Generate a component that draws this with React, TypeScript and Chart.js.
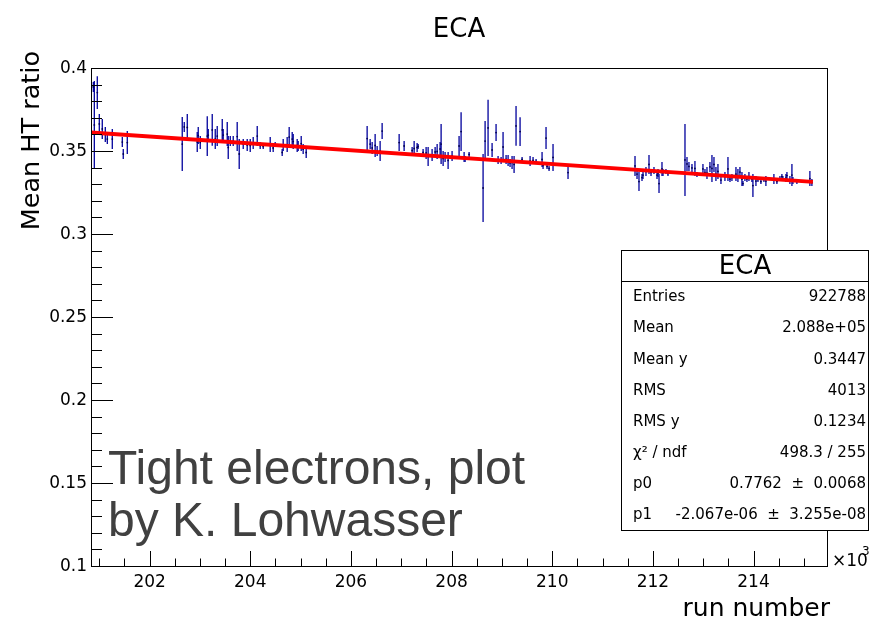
import React, { useEffect, useRef } from "react";
import { Chart, registerables } from "chart.js";

Chart.register(...registerables);

// ---- data ----
const runNumbers = [
  200881, 200901, 200960, 201000, 201059, 201119, 201159, 201258, 201457, 201476,
  201556, 202648, 202688, 202748, 202946, 202966, 203006, 203145, 203165, 203244,
  203304, 203343, 203443, 203462, 203542, 203562, 203602, 203661, 203740, 203780,
  203860, 203939, 203999, 204058, 204138, 204197, 204257, 204396, 204455, 204495,
  204634, 204654, 204733, 204773, 204833, 204853, 204932, 204952, 205012, 205051,
  205111, 206322, 206382, 206422, 206481, 206521, 206580, 206620, 206958, 207057,
  207216, 207256, 207315, 207335, 207434, 207494, 207534, 207613, 207673, 207713,
  207772, 207792, 207832, 207871, 207931, 208010, 208149, 208189, 208249, 208269,
  208348, 208626, 208666, 208725, 208805, 208884, 208924, 208984, 209023, 209083,
  209123, 209162, 209202, 209242, 209281, 209361, 209401, 209560, 209619, 209679,
  209798, 209818, 209877, 209897, 209937, 210016, 210314, 211645, 211685, 211724,
  211784, 211804, 211863, 211923, 211963, 212022, 212082, 212102, 212122, 212181,
  212201, 212260, 212300, 212638, 212678, 212717, 212777, 212836, 212876, 212995,
  213035, 213075, 213134, 213174, 213214, 213253, 213293, 213353, 213432, 213492,
  213532, 213571, 213651, 213690, 213730, 213770, 213790, 213829, 213869, 213909,
  213968, 213988, 214048, 214088, 214147, 214207, 214246, 214405, 214465, 214525,
  214564, 214584, 214644, 214664, 214723, 214763, 214783, 214862, 215120, 215160,
];

const meanRatio = [
  0.3886, 0.3657, 0.3852, 0.3663, 0.3633, 0.3599, 0.3572, 0.3572, 0.3554, 0.3482,
  0.3551, 0.3542, 0.3645, 0.3642, 0.3554, 0.3593, 0.3551, 0.3590, 0.3596, 0.3627,
  0.3572, 0.3590, 0.3627, 0.3596, 0.3602, 0.3521, 0.3560, 0.3560, 0.3587, 0.3482,
  0.3542, 0.3536, 0.3533, 0.3548, 0.3590, 0.3533, 0.3527, 0.3539, 0.3518, 0.3539,
  0.3491, 0.3536, 0.3539, 0.3584, 0.3572, 0.3557, 0.3533, 0.3530, 0.3545, 0.3512,
  0.3491, 0.3575, 0.3542, 0.3518, 0.3533, 0.3500, 0.3500, 0.3620, 0.3551, 0.3530,
  0.3503, 0.3515, 0.3521, 0.3527, 0.3491, 0.3488, 0.3467, 0.3476, 0.3494, 0.3497,
  0.3512, 0.3542, 0.3455, 0.3464, 0.3443, 0.3470, 0.3530, 0.3617, 0.3464, 0.3452,
  0.3479, 0.3277, 0.3560, 0.3639, 0.3506, 0.3611, 0.3446, 0.3443, 0.3524, 0.3449,
  0.3443, 0.3428, 0.3431, 0.3419, 0.3651, 0.3617, 0.3449, 0.3440, 0.3443, 0.3437,
  0.3449, 0.3413, 0.3578, 0.3407, 0.3395, 0.3461, 0.3370, 0.3410, 0.3361, 0.3316,
  0.3340, 0.3355, 0.3377, 0.3419, 0.3370, 0.3383, 0.3355, 0.3367, 0.3304, 0.3392,
  0.3370, 0.3377, 0.3364, 0.3446, 0.3422, 0.3407, 0.3398, 0.3395, 0.3358, 0.3392,
  0.3370, 0.3367, 0.3404, 0.3395, 0.3419, 0.3361, 0.3377, 0.3325, 0.3346, 0.3392,
  0.3331, 0.3340, 0.3361, 0.3352, 0.3373, 0.3331, 0.3304, 0.3340, 0.3331, 0.3346,
  0.3331, 0.3292, 0.3319, 0.3328, 0.3316, 0.3328, 0.3319, 0.3331, 0.3316, 0.3334,
  0.3346, 0.3334, 0.3337, 0.3352, 0.3325, 0.3355, 0.3322, 0.3316, 0.3334, 0.3310,
];

const ratioError = [
  0.0030, 0.0265, 0.0099, 0.0060, 0.0060, 0.0045, 0.0030, 0.0060, 0.0030, 0.0030,
  0.0069, 0.0163, 0.0030, 0.0081, 0.0060, 0.0051, 0.0039, 0.0120, 0.0036, 0.0096,
  0.0060, 0.0060, 0.0066, 0.0036, 0.0072, 0.0069, 0.0030, 0.0030, 0.0087, 0.0090,
  0.0030, 0.0036, 0.0039, 0.0036, 0.0060, 0.0021, 0.0015, 0.0045, 0.0024, 0.0015,
  0.0021, 0.0036, 0.0045, 0.0060, 0.0042, 0.0045, 0.0039, 0.0030, 0.0045, 0.0030,
  0.0033, 0.0075, 0.0030, 0.0036, 0.0069, 0.0030, 0.0060, 0.0048, 0.0051, 0.0030,
  0.0021, 0.0045, 0.0027, 0.0015, 0.0021, 0.0036, 0.0057, 0.0036, 0.0030, 0.0045,
  0.0042, 0.0120, 0.0045, 0.0030, 0.0051, 0.0030, 0.0060, 0.0117, 0.0030, 0.0018,
  0.0015, 0.0205, 0.0120, 0.0169, 0.0042, 0.0051, 0.0024, 0.0021, 0.0090, 0.0027,
  0.0033, 0.0024, 0.0039, 0.0051, 0.0120, 0.0087, 0.0015, 0.0030, 0.0021, 0.0015,
  0.0045, 0.0021, 0.0066, 0.0015, 0.0015, 0.0081, 0.0039, 0.0060, 0.0030, 0.0057,
  0.0021, 0.0024, 0.0027, 0.0057, 0.0021, 0.0021, 0.0024, 0.0024, 0.0057, 0.0042,
  0.0021, 0.0015, 0.0015, 0.0217, 0.0042, 0.0027, 0.0024, 0.0045, 0.0015, 0.0030,
  0.0021, 0.0036, 0.0030, 0.0081, 0.0045, 0.0042, 0.0045, 0.0024, 0.0027, 0.0072,
  0.0018, 0.0021, 0.0042, 0.0039, 0.0030, 0.0042, 0.0015, 0.0021, 0.0018, 0.0027,
  0.0018, 0.0069, 0.0030, 0.0015, 0.0015, 0.0015, 0.0030, 0.0030, 0.0015, 0.0015,
  0.0015, 0.0015, 0.0024, 0.0021, 0.0024, 0.0066, 0.0021, 0.0015, 0.0045, 0.0021,
];

// linear fit drawn over the profile (endpoints of the red line)
const fitRuns = [200835, 215180];
const fitRatio = [0.3611, 0.3314];

// axes
const xRange = [200835, 215460];
const yRange = [0.1, 0.4];
const xMajorTicks = [202000, 204000, 206000, 208000, 210000, 212000, 214000];
const xTickLabels = ["202", "204", "206", "208", "210", "212", "214"];
const xMinorStep = 500;
const yMajorTicks = [0.1, 0.15, 0.2, 0.25, 0.3, 0.35, 0.4];
const yTickLabels = ["0.1", "0.15", "0.2", "0.25", "0.3", "0.35", "0.4"];
const yMinorStep = 0.01;

// statistics box
const statsTitle = "ECA";
const statsLabels = ["Entries", "Mean", "Mean y", "RMS", "RMS y", "χ² / ndf", "p0", "p1"];
const statsValues = [
  "922788",
  "2.088e+05",
  "0.3447",
  "4013",
  "0.1234",
  "498.3 / 255",
  "0.7762  ±  0.0068",
  "-2.067e-06  ±  3.255e-08",
];

const chartTitle = "ECA";
const xAxisTitle = "run number";
const yAxisTitle = "Mean HT ratio";
const noteLines = ["Tight electrons, plot", "by K. Lohwasser"];

const SANS = '"DejaVu Sans", "Liberation Sans", sans-serif';

const rootStylePlugin = {
  id: "rootStyle",
  beforeDatasetsDraw(chart: any) {
    const ctx = chart.ctx;
    const xs = chart.scales.x;
    const ys = chart.scales.y;
    ctx.save();
    ctx.strokeStyle = "#00009c";
    ctx.lineWidth = 1.3;
    for (let i = 0; i < runNumbers.length; i++) {
      const px = xs.getPixelForValue(runNumbers[i]);
      const y1 = ys.getPixelForValue(meanRatio[i] - ratioError[i]);
      const y2 = ys.getPixelForValue(meanRatio[i] + ratioError[i]);
      ctx.beginPath();
      ctx.moveTo(px, y1);
      ctx.lineTo(px, y2);
      ctx.stroke();
    }
    ctx.restore();
  },
  afterDraw(chart: any) {
    const ctx = chart.ctx;
    const xs = chart.scales.x;
    const ys = chart.scales.y;
    const a = chart.chartArea;
    ctx.save();

    // frame
    ctx.strokeStyle = "#000";
    ctx.lineWidth = 1;
    ctx.strokeRect(Math.round(a.left) + 0.5, Math.round(a.top) + 0.5, Math.round(a.right - a.left), Math.round(a.bottom - a.top));

    // y ticks (inside)
    const nY = Math.round((yRange[1] - yRange[0]) / yMinorStep);
    for (let k = 0; k <= nY; k++) {
      const v = yRange[0] + k * yMinorStep;
      const isMajor = yMajorTicks.some((m) => Math.abs(m - v) < 1e-6);
      const py = Math.round(ys.getPixelForValue(v)) + 0.5;
      ctx.beginPath();
      ctx.moveTo(a.left, py);
      ctx.lineTo(a.left + (isMajor ? 22 : 11), py);
      ctx.stroke();
    }
    // x ticks (inside)
    const startX = Math.ceil(xRange[0] / xMinorStep) * xMinorStep;
    for (let v = startX; v <= xRange[1]; v += xMinorStep) {
      const isMajor = xMajorTicks.includes(v);
      const px = Math.round(xs.getPixelForValue(v)) + 0.5;
      ctx.beginPath();
      ctx.moveTo(px, a.bottom);
      ctx.lineTo(px, a.bottom - (isMajor ? 15 : 7.5));
      ctx.stroke();
    }

    // tick labels
    ctx.fillStyle = "#000";
    ctx.font = "17px " + SANS;
    ctx.textAlign = "right";
    ctx.textBaseline = "middle";
    yMajorTicks.forEach((v, i) => {
      ctx.fillText(yTickLabels[i], a.left - 4, ys.getPixelForValue(v) + 1);
    });
    ctx.textAlign = "center";
    ctx.textBaseline = "alphabetic";
    xMajorTicks.forEach((v, i) => {
      ctx.fillText(xTickLabels[i], xs.getPixelForValue(v), 587);
    });

    // x10^3
    ctx.textAlign = "left";
    ctx.font = "17px " + SANS;
    ctx.fillText("×10", 832, 566);
    ctx.font = "12px " + SANS;
    ctx.fillText("3", 862, 555);

    // titles
    ctx.font = "26px " + SANS;
    ctx.textAlign = "center";
    ctx.fillText(chartTitle, (a.left + a.right) / 2, 37);

    ctx.font = "25px " + SANS;
    ctx.textAlign = "right";
    ctx.fillText(xAxisTitle, 830, 616);

    ctx.save();
    ctx.translate(39, 51);
    ctx.rotate(-Math.PI / 2);
    ctx.textAlign = "right";
    ctx.font = "25.5px " + SANS;
    ctx.fillText(yAxisTitle, 0, 0);
    ctx.restore();

    // annotation
    ctx.fillStyle = "#404040";
    ctx.font = '48px "Liberation Sans", Arial, sans-serif';
    ctx.textAlign = "left";
    ctx.fillText(noteLines[0], 108, 484);
    ctx.fillText(noteLines[1], 108, 536);

    // stats box
    const bx = 621.5, by = 250.5, bw = 247, bh = 280;
    ctx.fillStyle = "#fff";
    ctx.fillRect(bx, by, bw, bh);
    ctx.strokeStyle = "#000";
    ctx.strokeRect(bx, by, bw, bh);
    ctx.beginPath();
    ctx.moveTo(bx, 281.5);
    ctx.lineTo(bx + bw, 281.5);
    ctx.stroke();
    ctx.fillStyle = "#000";
    ctx.font = "26px " + SANS;
    ctx.textAlign = "center";
    ctx.textBaseline = "middle";
    ctx.fillText(statsTitle, bx + bw / 2, 267);
    ctx.font = "15px " + SANS;
    const rowY = 297.5;
    const rowStep = 31.1;
    statsLabels.forEach((lab, i) => {
      const yy = rowY + i * rowStep;
      ctx.textAlign = "left";
      ctx.fillText(lab, 633, yy);
      ctx.textAlign = "right";
      ctx.fillText(statsValues[i], 866, yy);
    });

    ctx.restore();
  },
};

export default function App() {
  const canvasRef = useRef<HTMLCanvasElement | null>(null);

  useEffect(() => {
    if (!canvasRef.current) return;
    const chart = new Chart(canvasRef.current, {
      type: "scatter",
      data: {
        datasets: [
          {
            type: "line",
            label: "fit",
            data: fitRuns.map((x, i) => ({ x, y: fitRatio[i] })),
            borderColor: "#ff0000",
            borderWidth: 4,
            pointRadius: 0,
            fill: false,
            order: 0,
          } as any,
          {
            type: "scatter",
            label: "profile",
            data: runNumbers.map((x, i) => ({ x, y: meanRatio[i] })),
            backgroundColor: "#000050",
            borderColor: "#000050",
            pointRadius: 0.9,
            borderWidth: 0,
            order: 1,
          },
        ],
      },
      options: {
        responsive: false,
        animation: false,
        devicePixelRatio: 1,
        layout: { padding: { left: 91, right: 44, top: 68, bottom: 52 } },
        plugins: { legend: { display: false }, tooltip: { enabled: false }, title: { display: false } },
        scales: {
          x: { type: "linear", min: xRange[0], max: xRange[1], display: false },
          y: { type: "linear", min: yRange[0], max: yRange[1], display: false },
        },
      },
      plugins: [rootStylePlugin],
    });
    return () => chart.destroy();
  }, []);

  return (
    <div style={{ position: "fixed", left: 0, top: 0, width: 871, height: 618, background: "#fff" }}>
      <canvas ref={canvasRef} width={871} height={618} style={{ width: 871, height: 618 }} />
    </div>
  );
}
